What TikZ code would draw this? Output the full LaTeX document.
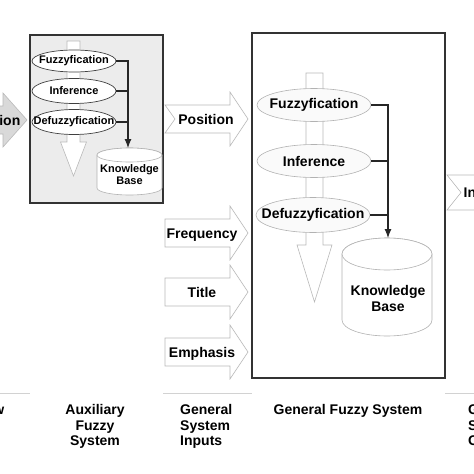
\documentclass[tikz,border=0pt]{standalone}
\usepackage{fontspec}
\setmainfont{Liberation Sans}
\usetikzlibrary{arrows.meta,shapes.geometric}

% text without width, so the ellipse keeps its own size
\newcommand{\slim}[1]{\makebox[0pt]{#1}}

\tikzset{
	big/.style={font=\bfseries\fontsize{14}{16}\selectfont},
	small/.style={font=\bfseries\fontsize{11}{13}\selectfont},
	frame/.style={draw=black!80, line width=1.3pt},
	fat/.style={draw=gray!55, fill=white, line width=0.6pt},
	stage/.style={ellipse, big, draw=gray!60, fill=gray!4, line width=0.6pt,
		minimum width=114pt, minimum height=33pt, inner sep=0pt},
	substage/.style={ellipse, small, draw=black!75, fill=white, line width=0.7pt,
		minimum width=84pt, minimum height=25pt, inner sep=0pt},
	cyl/.style={draw=gray!60, fill=white, line width=0.6pt},
	link/.style={draw=black!85, line width=1.1pt, -{Latex[length=9pt,width=7pt]}},
	tieline/.style={draw=black!85, line width=1.1pt},
	caption/.style={big, inner sep=0pt, align=center},
	sep/.style={draw=gray!35, line width=1pt}
}

\begin{document}
\begin{tikzpicture}[x=1pt, y=1pt]
		\useasboundingbox (0,0) rectangle (474,-474);
		\clip (0,0) rectangle (474,-474);

		% incoming arrow on the left
		\shadedraw[top color=gray!30, middle color=white, bottom color=gray!30, draw=gray!55, line width=0.6pt]
			(-60,-106) -- (3,-106) -- (3,-93) -- (27,-120) -- (3,-147) -- (3,-134) -- (-60,-134) -- cycle;
		\node[big, anchor=base east, inner sep=0pt] (loc) at (20.5,-125) {Location};

		% auxiliary fuzzy system
		\filldraw[frame, fill=gray!15] (30,-35) rectangle (163,-203);
		\draw[fat] (67,-41) -- (67,-142) -- (60.5,-142) -- (73.5,-176) -- (86.5,-142) -- (80,-142) -- (80,-41) -- cycle;
		\node[substage, minimum height=22pt] (afuz) at (74,-61) {\slim{Fuzzyfication}};
		\node[substage] (ainf) at (74,-91) {\slim{Inference}};
		\node[substage] (adfz) at (74,-122) {\slim{Defuzzyfication}};

		\filldraw[cyl] (97,-155) -- (97,-188) arc[start angle=180, end angle=360, x radius=32.5, y radius=7]
			-- (162,-155) arc[start angle=0, end angle=180, x radius=32.5, y radius=7] -- cycle;
		\draw[cyl] (129.5,-155) ellipse[x radius=32.5, y radius=7];
		\coordinate (akbtop) at (128,-148);
		\node[small, align=center, inner sep=0pt] (akb) at (129.5,-175) {Knowledge\\[-1pt]Base};

		\draw[link] (afuz.east) -| (akbtop);
		\draw[tieline] (ainf.east) -- (ainf.east -| akbtop);
		\draw[tieline] (adfz.east) -- (adfz.east -| akbtop);

		% general system inputs
		\draw[fat] (165,-105) -- (230,-105) -- (230,-92) -- (248,-119) -- (230,-146) -- (230,-133) -- (165,-133) -- (175,-119) -- cycle;
		\node[big, anchor=base, inner sep=0pt] (pos) at (206,-124) {Position};
		\foreach \y/\name/\txt in {233/freq/Frequency, 292/title/Title, 352/emph/Emphasis} {
			\path (165,-\y) coordinate (\name-tail);
			\draw[fat] (\name-tail) ++(0,14) -- ++(65,0) -- ++(0,13) -- ++(18,-27) -- ++(-18,-27) -- ++(0,13) -- ++(-65,0) -- cycle;
			\node[big, anchor=base, inner sep=0pt] (\name) at (202,-\y-5) {\txt};
		}

		% general fuzzy system
		\draw[frame] (252,-33) rectangle (445,-378);
		\draw[fat] (306,-73) -- (306,-245) -- (297,-245) -- (314.5,-302) -- (332,-245) -- (323,-245) -- (323,-73) -- cycle;
		\node[stage] (fuz) at (314,-105) {\slim{Fuzzyfication}};
		\node[stage] (inf) at (314,-161) {\slim{Inference}};
		\node[stage, minimum height=35pt] (dfz) at (313,-215) {\slim{Defuzzyfication}};

		\filldraw[cyl] (342,-254) -- (342,-320) arc[start angle=180, end angle=360, x radius=45, y radius=16]
			-- (432,-254) arc[start angle=0, end angle=180, x radius=45, y radius=16] -- cycle;
		\draw[cyl] (387,-254) ellipse[x radius=45, y radius=16];
		\coordinate (kbtop) at (388,-238);
		\node[big, align=center, inner sep=0pt] (kb) at (388,-298) {Knowledge\\Base};

		\draw[link] (fuz.east) -| (kbtop);
		\draw[tieline] (inf.east) -- (inf.east -| kbtop);
		\draw[tieline] (dfz.east) -- (dfz.east -| kbtop);

		% outgoing arrow on the right
		\draw[fat] (447,-175) -- (520,-175) -- (520,-210) -- (447,-210) -- (461,-192.5) -- cycle;
		\node[big, anchor=base west, inner sep=0pt] (idx) at (463.5,-197) {Index};

		% column captions
		\draw[sep] (0,-393) -- (30,-393);
		\draw[sep] (163,-393) -- (252,-393);
		\draw[sep] (445,-393) -- (474,-393);
		\node[caption, anchor=north east] (flowcap) at (4.5,-404.5) {Data Flow};
		\node[caption, anchor=north] (auxcap) at (95,-404.5) {Auxiliary\\[-0.5pt]Fuzzy\\[-0.5pt]System};
		\node[caption, anchor=north west, align=left] (incap) at (180,-404.5) {General\\[-0.5pt]System\\[-0.5pt]Inputs};
		\node[caption, anchor=north] (gfscap) at (348,-404.5) {General Fuzzy System};
		\node[caption, anchor=north west, align=left] (outcap) at (468,-404.5) {General\\[-0.5pt]System\\[-0.5pt]Outputs};
\end{tikzpicture}
\end{document}
